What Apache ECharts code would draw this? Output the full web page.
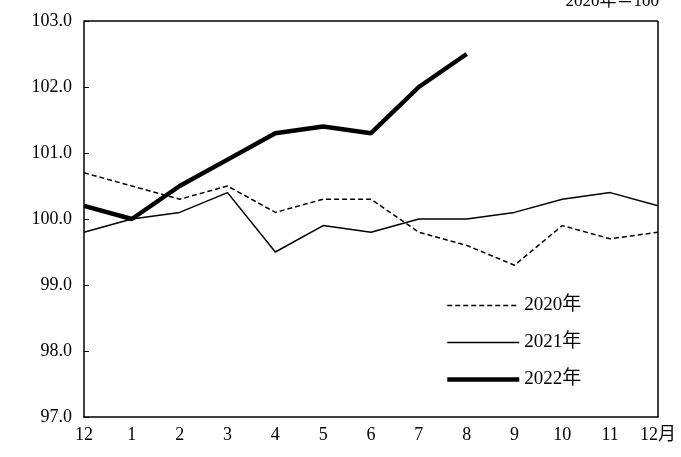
<!DOCTYPE html>
<html><head><meta charset="utf-8">
<script src="https://cdn.jsdelivr.net/npm/echarts@6/dist/echarts.min.js"></script>
<style>html,body{margin:0;padding:0;background:#fff}#c{width:681px;height:457px}</style>
</head><body><div id="c"></div>
<script>
const categories=['12','1','2','3','4','5','6','7','8','9','10','11','12月'];
const s2020=[100.7,100.5,100.3,100.5,100.1,100.3,100.3,99.8,99.6,99.3,99.9,99.7,99.8];
const s2021=[99.8,100.0,100.1,100.4,99.5,99.9,99.8,100.0,100.0,100.1,100.3,100.4,100.2];
const s2022=[100.2,100.0,100.5,100.9,101.3,101.4,101.3,102.0,102.5];
const F='"Liberation Serif","DejaVu Serif","Noto Sans CJK JP",serif';
const chart=echarts.init(document.getElementById('c'));
chart.setOption({
  animation:false,
  textStyle:{fontFamily:F},
  graphic:[{type:'text',right:22,top:-7,style:{text:'2020年＝100',font:'17px '+F,fill:'#000'}}],
  grid:{left:84,right:23,top:21,bottom:40},
  legend:{orient:'vertical',left:440,top:291,itemWidth:72,itemHeight:14,itemGap:18,
    textStyle:{fontSize:19,fontFamily:F,color:'#000'},
    data:[
      {name:'2020年',itemStyle:{opacity:0},lineStyle:{width:1.5,type:[5,3],color:'#000'}},
      {name:'2021年',itemStyle:{opacity:0},lineStyle:{width:1.5,color:'#000'}},
      {name:'2022年',itemStyle:{opacity:0},lineStyle:{width:4.5,color:'#000'}}]},
  xAxis:{type:'category',boundaryGap:false,data:categories,
    axisLine:{lineStyle:{color:'#000',width:1.5}},
    axisTick:{show:false},
    axisLabel:{color:'#000',fontSize:18,fontFamily:F,margin:9},
    splitLine:{show:false}},
  yAxis:{type:'value',min:97,max:103,interval:1,
    axisLine:{show:true,lineStyle:{color:'#000',width:1.5}},
    axisTick:{show:true,inside:true,length:5,lineStyle:{color:'#000'}},
    axisLabel:{color:'#000',fontSize:18,fontFamily:F,formatter:v=>v.toFixed(1),margin:12},
    splitLine:{show:false}},
  series:[
    {name:'2020年',type:'line',data:s2020,symbol:'none',lineStyle:{color:'#000',width:1.5,type:[5,3]},itemStyle:{color:'#000'}},
    {name:'2021年',type:'line',data:s2021,symbol:'none',lineStyle:{color:'#000',width:1.5},itemStyle:{color:'#000'}},
    {name:'2022年',type:'line',data:s2022,symbol:'none',lineStyle:{color:'#000',width:4.5},itemStyle:{color:'#000'}},
    {name:'frame',type:'line',data:[],markLine:{silent:true,symbol:'none',label:{show:false},lineStyle:{color:'#000',width:1.5,type:'solid'},
      data:[[{xAxis:'12',y:21},{xAxis:'12月',y:21}],[{xAxis:'12月',y:21},{xAxis:'12月',y:417}]]}}
  ]
});
</script></body></html>
